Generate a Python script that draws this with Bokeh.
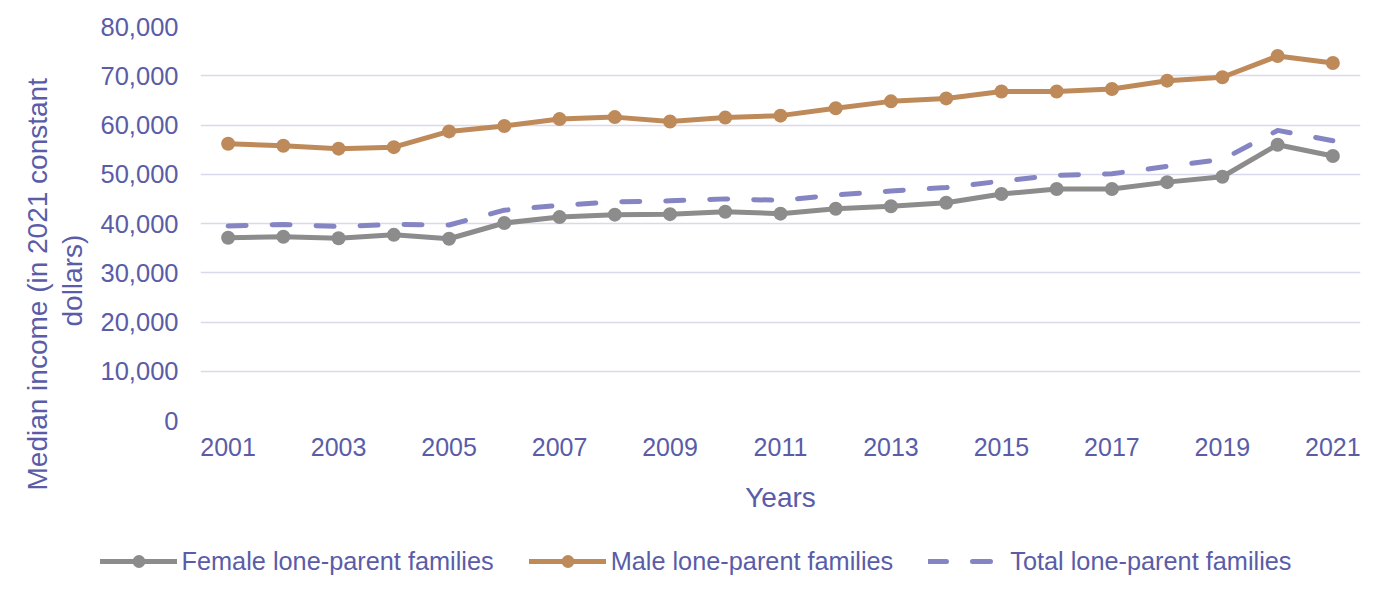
from bokeh.plotting import figure
from bokeh.models import ColumnDataSource, NumeralTickFormatter, FixedTicker, Legend, LegendItem, Title, Range1d
from bokeh.layouts import column, row
from bokeh.embed import file_html
from bokeh.resources import INLINE

years = list(range(2001, 2022))
female = [37100, 37300, 37000, 37700, 36900, 40100, 41300, 41800, 41900, 42400, 42000,
          43000, 43500, 44200, 46000, 47000, 47000, 48400, 49500, 56000, 53700]
male = [56200, 55800, 55200, 55500, 58700, 59800, 61200, 61600, 60700, 61500, 61900,
        63400, 64800, 65400, 66800, 66800, 67300, 69000, 69700, 74000, 72600]
total = [39500, 39800, 39400, 39800, 39700, 42700, 43700, 44400, 44600, 45000, 44700,
         45800, 46600, 47300, 48600, 49800, 50100, 51600, 53000, 58900, 56800]
series_names = ["Female lone-parent families", "Male lone-parent families", "Total lone-parent families"]
x_tick_years = list(range(2001, 2022, 2))
y_ticks = list(range(0, 80001, 10000))
y_title_lines = ["Median income (in 2021 constant", "dollars)"]
x_title = "Years"

TEXT = "#5A5CA8"
FONT = "Liberation Sans"
C_FEMALE = "#8C8C8C"
C_MALE = "#BE8A5A"
C_TOTAL = "#8585C4"
DASH = "18 26"

src = ColumnDataSource(dict(year=years, female=female, male=male, total=total))

# ---------------- main chart ----------------
p = figure(width=1288, height=520, output_backend="svg", toolbar_location=None,
           x_range=Range1d(2000.5, 2021.5), y_range=Range1d(0, 80000),
           min_border_left=110, min_border_right=18, min_border_top=26, min_border_bottom=100)
p.outline_line_color = None
p.xgrid.grid_line_color = None
p.ygrid.grid_line_color = "#D9D9EC"
p.ygrid.grid_line_width = 1.5

p.yaxis.ticker = FixedTicker(ticks=y_ticks)
p.yaxis.formatter = NumeralTickFormatter(format="0,0")
p.xaxis.ticker = FixedTicker(ticks=x_tick_years)
for ax in (p.xaxis, p.yaxis):
    ax.axis_line_color = None
    ax.major_tick_line_color = None
    ax.minor_tick_line_color = None
    ax.major_tick_out = 0
    ax.major_tick_in = 0
    ax.minor_tick_out = 0
    ax.major_label_text_font = FONT
    ax.major_label_text_font_size = "25px"
    ax.major_label_text_color = TEXT
p.yaxis.major_label_text_font_size = "25.5px"
p.yaxis.major_label_standoff = 22
p.xaxis.major_label_standoff = 17
p.xaxis.axis_label = x_title
p.xaxis.axis_label_text_font = FONT
p.xaxis.axis_label_text_font_size = "28px"
p.xaxis.axis_label_text_font_style = "normal"
p.xaxis.axis_label_text_color = TEXT
p.xaxis.axis_label_standoff = 23

p.line("year", "female", source=src, line_color=C_FEMALE, line_width=5, line_join="round", line_cap="round")
p.scatter("year", "female", source=src, size=14, fill_color=C_FEMALE, line_color=None)
p.line("year", "male", source=src, line_color=C_MALE, line_width=5, line_join="round", line_cap="round")
p.scatter("year", "male", source=src, size=14, fill_color=C_MALE, line_color=None)
p.line("year", "total", source=src, line_color=C_TOTAL, line_width=5, line_dash=DASH,
       line_cap="round", line_join="round")

# ---------------- y-axis title strip ----------------
ys = figure(width=90, height=520, output_backend="svg", toolbar_location=None,
            x_range=Range1d(0, 1), y_range=Range1d(0, 1), x_axis_type=None, y_axis_type=None,
            min_border_left=89, min_border_right=0, min_border_top=26, min_border_bottom=100)
ys.outline_line_color = None
t_inner = Title(text=y_title_lines[1], align="left", offset=94, vertical_align="middle", standoff=2,
                text_font=FONT, text_font_size="28px", text_font_style="normal", text_color=TEXT)
t_outer = Title(text=y_title_lines[0], align="left", offset=-70, vertical_align="middle", standoff=2,
                text_font=FONT, text_font_size="28px", text_font_style="normal", text_color=TEXT)
ys.add_layout(t_inner, "left")
ys.add_layout(t_outer, "left")

# ---------------- legend strip ----------------
lg = figure(width=1378, height=76, output_backend="svg", toolbar_location=None,
            x_range=Range1d(0, 1), y_range=Range1d(0, 1), x_axis_type=None, y_axis_type=None,
            min_border=0)
lg.outline_line_color = None
# legend proxies: same data, outside this strip's visible ranges
lf = lg.line("year", "female", source=src, line_color=C_FEMALE, line_width=5, line_cap="round")
lfc = lg.scatter("year", "female", source=src, size=14, fill_color=C_FEMALE, line_color=None)
lm = lg.line("year", "male", source=src, line_color=C_MALE, line_width=5, line_cap="round")
lmc = lg.scatter("year", "male", source=src, size=14, fill_color=C_MALE, line_color=None)
lt = lg.line("year", "total", source=src, line_color=C_TOTAL, line_width=5, line_dash=DASH, line_cap="round")
legend = Legend(items=[
    LegendItem(label=series_names[0], renderers=[lf, lfc]),
    LegendItem(label=series_names[1], renderers=[lm, lmc]),
    LegendItem(label=series_names[2], renderers=[lt]),
], orientation="horizontal", location=(99.5, 19),
    glyph_width=77, glyph_height=32, label_height=32, label_standoff=5, spacing=35,
    padding=5, margin=0, border_line_color=None, background_fill_alpha=0,
    label_text_font=FONT, label_text_font_size="25.3px", label_text_color=TEXT)
lg.add_layout(legend, "center")

layout = column(row(ys, p), lg)
open("out.html", "w").write(file_html(layout, INLINE))
